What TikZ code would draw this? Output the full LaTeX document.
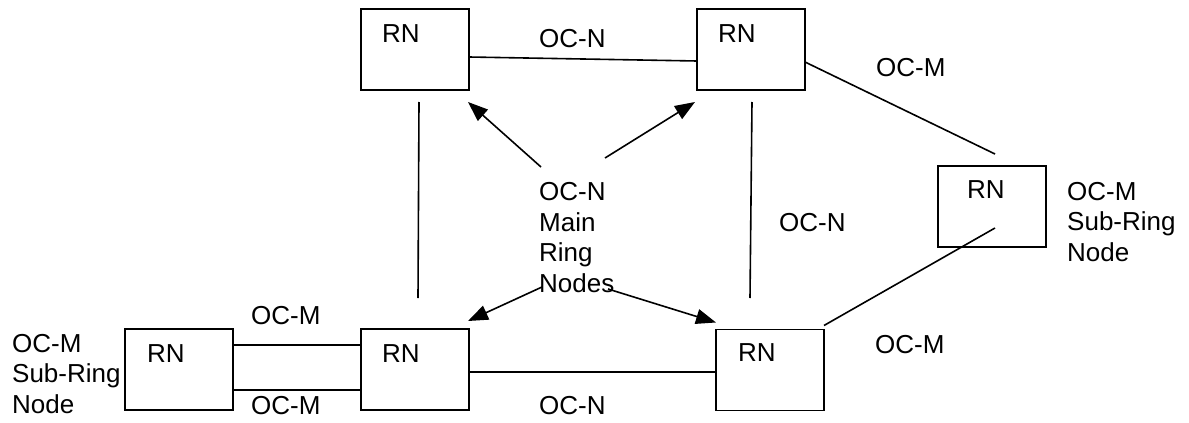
\documentclass[tikz,border=0pt]{standalone}
\usepackage{fontspec}
\setmainfont{Liberation Sans}
\usetikzlibrary{arrows.meta,calc}
\begin{document}
\begin{tikzpicture}[x=1pt,y=-1pt,
  box/.style={draw,line width=1.6pt,minimum width=108pt,minimum height=81pt,inner sep=0pt,outer sep=0pt},
  txt/.style={inner sep=0pt,anchor=base west,font=\fontsize{26}{30.5}\selectfont,align=left},
  link/.style={line width=1.6pt},
  arr/.style={line width=1.6pt,-{Triangle[length=20pt,width=15pt]}}]
\useasboundingbox (0,0) rectangle (1189,423);
% boxes
\node[box] (tl) at (415,49.5) {};
\node[box] (tr) at (751,49.5) {};
\node[box] (r) at (992,206.5) {};
\node[box] (sub) at (179,369.5) {};
\node[box] (ml) at (415,369.5) {};
\node[box] (br) at (770,370) {};
% RN labels
\node[txt] (tlrn) at ($(tl.north west)+(21,33)$) {RN};
\node[txt] (trrn) at ($(tr.north west)+(21,33)$) {RN};
\node[txt] (rrn) at ($(r.north west)+(29,32)$) {RN};
\node[txt] (subrn) at ($(sub.north west)+(22,33)$) {RN};
\node[txt] (mlrn) at ($(ml.north west)+(21,33)$) {RN};
\node[txt] (brrn) at ($(br.north west)+(22,32)$) {RN};
% other labels
\node[txt] (ocn1) at (539,47) {OC-N};
\node[txt] (ocm1) at (876,76) {OC-M};
\node[txt] (ocn2) at (779,231) {OC-N};
\node[txt] (ocm2) at (875,353) {OC-M};
\node[txt] (ocn3) at (539,414) {OC-N};
\node[txt] (ocm3) at (251,324) {OC-M};
\node[txt] (ocm4) at (251,414) {OC-M};
\node[txt] (main) at (539,292) {OC-N\\Main\\Ring\\Nodes};
\node[txt] (subl) at (12,413) {OC-M\\Sub-Ring\\Node};
\node[txt] (subr) at (1067,261) {OC-M\\Sub-Ring\\Node};
% free-end coordinates
\coordinate (v1a) at (419,102);
\coordinate (v1b) at (418,298);
\coordinate (v2a) at (752,102);
\coordinate (v2b) at (750,298);
\coordinate (rtop) at (995,154);
\coordinate (rin) at (995,228);
\coordinate (a1) at (541,167);
\coordinate (a2) at (605,158);
\coordinate (a3) at (542,287);
\coordinate (a4) at (608,289);
% connectors
\draw[link] ($(tl.east)+(0,7.5)$) -- ($(tr.west)+(0,11.5)$);
\draw[link] ($(tr.east)+(0,12.5)$) -- (rtop);
\draw[link] ($(br.north east)+(0,-4)$) -- (rin);
\draw[link] (v1a) -- (v1b);
\draw[link] (v2a) -- (v2b);
\draw[link] ($(ml.east)+(0,2.5)$) -- ($(br.west)+(0,2)$);
\draw[link] ($(sub.north east)+(0,16)$) -- ($(ml.north west)+(0,16)$);
\draw[link] ($(sub.north east)+(0,61)$) -- ($(ml.north west)+(0,61)$);
% arrows
\draw[arr] (a1) -- ($(tl.south east)+(-1,12)$);
\draw[arr] (a2) -- ($(tr.south west)+(-2,12)$);
\draw[arr] (a3) -- ($(ml.north east)+(-1,-8)$);
\draw[arr] (a4) -- ($(br.north west)+(0,-7)$);
\end{tikzpicture}
\end{document}
